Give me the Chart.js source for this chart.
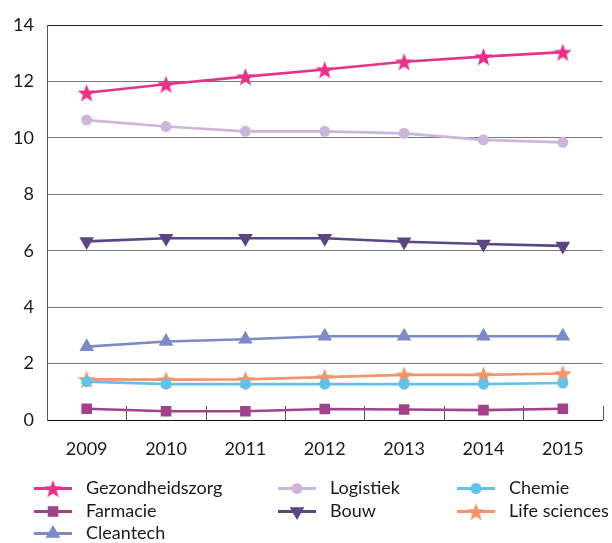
<!DOCTYPE html>
<html><head><meta charset="utf-8">
<script src="https://cdn.jsdelivr.net/npm/chart.js@4.4.1/dist/chart.umd.min.js"></script>
<style>html,body{margin:0;padding:0;background:#fff}#wrap{width:612px;height:543px;position:relative}</style>
</head><body><div id="wrap"><canvas id="c" width="612" height="543"></canvas></div>
<script>
const years = ['2009', '2010', '2011', '2012', '2013', '2014', '2015'];
const seriesNames = ['Gezondheidszorg', 'Logistiek', 'Chemie', 'Farmacie', 'Bouw', 'Life sciences', 'Cleantech'];
const gezondheidszorg = [11.60, 11.90, 12.17, 12.42, 12.70, 12.88, 13.04];
const logistiek = [10.63, 10.40, 10.23, 10.23, 10.16, 9.93, 9.84];
const chemie = [1.36, 1.27, 1.27, 1.27, 1.27, 1.27, 1.31];
const farmacie = [0.40, 0.31, 0.31, 0.39, 0.37, 0.35, 0.40];
const bouw = [6.33, 6.44, 6.44, 6.44, 6.32, 6.24, 6.17];
const lifeSciences = [1.44, 1.43, 1.44, 1.52, 1.60, 1.60, 1.65];
const cleantech = [2.60, 2.78, 2.86, 2.97, 2.97, 2.97, 2.97];
const yMin = 0, yMax = 14, yStep = 2;

const FONT = 'Lato, "DejaVu Sans", sans-serif';
const TEXT = '#1a1a1a';

function makeStar(color, R) {
  const s = Math.ceil(R * 2 + 2);
  const cv = document.createElement('canvas');
  cv.width = s; cv.height = s;
  const g = cv.getContext('2d');
  const cx = s / 2, cy = s / 2 + R * 0.1;
  const r = R * 0.42;
  g.beginPath();
  for (let i = 0; i < 10; i++) {
    const a = -Math.PI / 2 + i * Math.PI / 5;
    const rr = i % 2 === 0 ? R : r;
    const x = cx + rr * Math.cos(a), y = cy + rr * Math.sin(a);
    if (i === 0) g.moveTo(x, y); else g.lineTo(x, y);
  }
  g.closePath();
  g.fillStyle = color;
  g.fill();
  return cv;
}

const C = {
  gez: '#E6338A', log: '#CDB6D9', che: '#62C2EA', far: '#A04389',
  bou: '#5C4583', lif: '#F0956C', cle: '#7D8AC5'
};
const starGez = makeStar(C.gez, 9.5);
const starLif = makeStar(C.lif, 9.5);

function ds(label, data, color, style, radius, rotation, order) {
  return {
    label, data, borderColor: color, backgroundColor: color,
    pointBackgroundColor: color, pointBorderColor: color,
    pointStyle: style, pointRadius: radius, pointHoverRadius: radius,
    pointRotation: rotation, pointBorderWidth: 0,
    borderWidth: 2.6, tension: 0, fill: false, order
  };
}

const datasets = [
  ds(seriesNames[0], gezondheidszorg, C.gez, starGez, 9.5, 0, 1),
  ds(seriesNames[1], logistiek, C.log, 'circle', 5.5, 0, 2),
  ds(seriesNames[2], chemie, C.che, 'circle', 5.5, 0, 3),
  ds(seriesNames[3], farmacie, C.far, 'rect', 7.5, 0, 2),
  ds(seriesNames[4], bouw, C.bou, 'triangle', 8.5, 180, 2),
  ds(seriesNames[5], lifeSciences, C.lif, starLif, 9.5, 0, 4),
  ds(seriesNames[6], cleantech, C.cle, 'triangle', 8.5, 0, 2)
];

function drawMarker(ctx, style, r, rot, x, y, color) {
  ctx.save();
  ctx.fillStyle = color;
  if (style instanceof HTMLCanvasElement) {
    ctx.drawImage(style, x - style.width / 2, y - style.height / 2);
  } else {
    ctx.translate(x, y);
    ctx.rotate(rot * Math.PI / 180);
    ctx.beginPath();
    if (style === 'circle') ctx.arc(0, 0, r, 0, Math.PI * 2);
    else if (style === 'rect') { const s = Math.SQRT1_2 * r; ctx.rect(-s, -s, 2 * s, 2 * s); }
    else if (style === 'triangle') {
      for (let k = 0; k < 3; k++) {
        const a = -Math.PI / 2 + k * 2 * Math.PI / 3;
        const px = r * Math.cos(a), py = r * Math.sin(a);
        if (k === 0) ctx.moveTo(px, py); else ctx.lineTo(px, py);
      }
      ctx.closePath();
    }
    ctx.fill();
  }
  ctx.restore();
}

const innerTicks = {
  id: 'innerTicks',
  beforeDatasetsDraw(chart) {
    const xs = chart.scales.x, ctx = chart.ctx;
    const n = xs.ticks.length;
    const step = xs.width / n;
    ctx.save();
    ctx.strokeStyle = '#555';
    ctx.lineWidth = 1;
    for (let i = 1; i <= n; i++) {
      const x = Math.round(xs.left + i * step) + 0.5;
      ctx.beginPath();
      ctx.moveTo(x, xs.top);
      ctx.lineTo(x, xs.top - 14);
      ctx.stroke();
    }
    ctx.restore();
  }
};

const gridLegend = {
  id: 'gridLegend',
  afterDraw(chart) {
    const ctx = chart.ctx;
    const cols = [34, 278, 457];
    const rowTop = chart.chartArea.bottom + 68;
    const rowGap = 22.5;
    ctx.save();
    chart.data.datasets.forEach((d, i) => {
      const x0 = cols[i % 3];
      const y = Math.round(rowTop + Math.floor(i / 3) * rowGap) + 0.5;
      ctx.strokeStyle = d.borderColor;
      ctx.lineWidth = 3;
      ctx.beginPath();
      ctx.moveTo(x0, y);
      ctx.lineTo(x0 + 38, y);
      ctx.stroke();
      drawMarker(ctx, d.pointStyle, d.pointRadius, d.pointRotation, x0 + 19, y, d.borderColor);
      ctx.fillStyle = TEXT;
      ctx.font = '18px ' + FONT;
      ctx.textBaseline = 'middle';
      ctx.textAlign = 'left';
      ctx.fillText(d.label, x0 + 52, y);
    });
    ctx.restore();
  }
};

new Chart(document.getElementById('c'), {
  type: 'line',
  data: { labels: years, datasets },
  plugins: [innerTicks, gridLegend],
  options: {
    responsive: false,
    animation: false,
    devicePixelRatio: 1,
    layout: { padding: { left: 0, right: 5, top: 25, bottom: 83 } },
    plugins: { legend: { display: false }, tooltip: { enabled: false } },
    scales: {
      x: {
        offset: true,
        grid: { display: false, drawTicks: false },
        border: { display: true, color: '#111', width: 1 },
        ticks: { color: TEXT, font: { family: FONT, size: 18 }, padding: 18, maxRotation: 0 },
        afterFit(s) { s.height = 40; }
      },
      y: {
        min: yMin, max: yMax,
        ticks: { stepSize: yStep, color: TEXT, font: { family: FONT, size: 18 }, padding: 13 },
        grid: {
          drawTicks: false,
          color: (c) => (c.tick && (c.tick.value === yMax || c.tick.value === yMin)) ? '#222' : '#777',
          lineWidth: 1
        },
        border: { display: true, color: '#555', width: 1 },
        afterFit(s) { s.width = 47; }
      }
    }
  }
});
</script>
</body></html>
